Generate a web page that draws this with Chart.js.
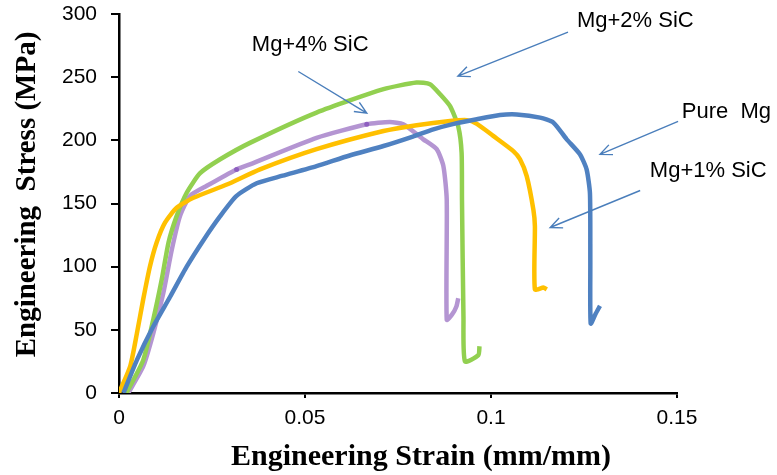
<!DOCTYPE html>
<html>
<head>
<meta charset="utf-8">
<script src="https://cdn.jsdelivr.net/npm/chart.js@4"></script>
<style>
  html, body { margin: 0; padding: 0; background: #fff; }
  canvas { display: block; }
</style>
</head>
<body>
<canvas id="stress-strain-chart" width="777" height="475"></canvas>
<script>
// tensile curves, strain in mm/mm and stress in MPa
const pure_mg_strain = [0.0012, 0.0048, 0.0092, 0.0137, 0.0182, 0.0227, 0.0272, 0.0316, 0.0370, 0.0440, 0.0531, 0.0620, 0.0711, 0.0790, 0.0845, 0.0900, 0.0962, 0.1024, 0.1069, 0.1132, 0.1168, 0.1203, 0.1239, 0.1257, 0.1266, 0.1267, 0.1268, 0.1280, 0.1293];
const pure_mg_stress = [0, 26, 52.6, 76, 100, 121, 140, 156, 166, 172, 179.6, 188, 195.5, 203, 208.7, 213, 216.7, 220, 220.5, 218, 214, 201, 189, 177, 158, 105, 55, 62, 69];

const sic1_strain = [0, 0.0030, 0.0048, 0.0065, 0.0083, 0.0101, 0.0124, 0.0155, 0.0200, 0.0290, 0.0379, 0.0531, 0.0711, 0.0800, 0.0890, 0.0935, 0.0962, 0.1006, 0.1060, 0.1078, 0.1096, 0.1114, 0.1118, 0.1118, 0.1141, 0.1150];
const sic1_stress = [0, 21, 47, 74, 100, 119, 135, 146.6, 154.5, 165, 177, 193, 207.4, 212, 215.3, 216, 213, 203.5, 191.5, 185, 171.7, 145, 132, 82, 83.5, 82];

const sic2_strain = [0.0020, 0.0065, 0.0092, 0.0115, 0.0133, 0.0155, 0.0182, 0.0218, 0.0272, 0.0352, 0.0531, 0.0711, 0.0800, 0.0836, 0.0863, 0.0890, 0.0912, 0.0921, 0.0922, 0.0926, 0.0930, 0.0966, 0.0969];
const sic2_stress = [0, 26, 58, 90, 119, 140, 158.5, 174, 185, 198, 222, 240.5, 245.8, 244.4, 236.5, 227, 211, 190, 153, 60, 25, 30, 37];

const sic4_strain = [0.0025, 0.0065, 0.0092, 0.0119, 0.0142, 0.0164, 0.0191, 0.0236, 0.0316, 0.0352, 0.0531, 0.0666, 0.0728, 0.0764, 0.0818, 0.0854, 0.0872, 0.0881, 0.0881, 0.0895, 0.0907, 0.0912];
const sic4_stress = [0, 21, 47, 79, 113.5, 140, 156, 164, 177, 181, 202, 212.7, 214.5, 212.7, 200.8, 193, 179.6, 153, 58, 62, 68.5, 75];
// two logged points that show as dots on the 4% curve
const sic4_marked = [8, 11];

const series_names = ['Pure  Mg', 'Mg+1% SiC', 'Mg+2% SiC', 'Mg+4% SiC'];
const x_ticks = [0, 0.05, 0.1, 0.15];
const y_ticks = [0, 50, 100, 150, 200, 250, 300];
const x_title = 'Engineering Strain (mm/mm)';
const y_title = 'Engineering  Stress (MPa)';

// callout labels: text anchor and arrow tail/head, in data units
const callouts = [
  { text: 'Mg+2% SiC', at: [0.1231, 294.4], from: [0.1207, 285.7], to: [0.0911, 250.8] },
  { text: 'Mg+4% SiC', at: [0.0357, 275.5], from: [0.0482, 254.5], to: [0.0666, 221.5] },
  { text: 'Pure  Mg',  at: [0.1513, 222.2], from: [0.1503, 215.0], to: [0.1293, 188.9] },
  { text: 'Mg+1% SiC', at: [0.1427, 175.4], from: [0.1401, 160.3], to: [0.1159, 131.0] },
];

function toPoints(xs, ys) {
  return xs.map((x, i) => ({ x: x, y: ys[i] }));
}

// axis titles sit a little off-centre, so they are drawn by hand
const axisTitlePlugin = {
  id: 'axisTitles',
  afterDraw(chart) {
    const ctx = chart.ctx;
    const area = chart.chartArea;
    ctx.save();
    ctx.fillStyle = '#000';
    ctx.font = 'bold 30px "Liberation Serif", "Times New Roman", serif';
    ctx.textAlign = 'center';
    ctx.textBaseline = 'middle';
    ctx.fillText(x_title, (area.left + area.right) / 2 + 23, 457);
    ctx.font = 'bold 29px "Liberation Serif", "Times New Roman", serif';
    ctx.translate(28, (area.top + area.bottom) / 2 - 9);
    ctx.rotate(-Math.PI / 2);
    ctx.fillText(y_title, 0, 0);
    ctx.restore();
  }
};

const calloutPlugin = {
  id: 'callouts',
  afterDatasetsDraw(chart) {
    const ctx = chart.ctx;
    const xs = chart.scales.x, ys = chart.scales.y;
    ctx.save();
    ctx.font = '22px "Liberation Sans", Arial, sans-serif';
    ctx.fillStyle = '#000';
    ctx.textBaseline = 'middle';
    ctx.textAlign = 'left';
    ctx.strokeStyle = '#4a7ebb';
    ctx.lineWidth = 1.4;
    callouts.forEach(c => {
      ctx.fillText(c.text, xs.getPixelForValue(c.at[0]), ys.getPixelForValue(c.at[1]));
      const x1 = xs.getPixelForValue(c.from[0]), y1 = ys.getPixelForValue(c.from[1]);
      const x2 = xs.getPixelForValue(c.to[0]), y2 = ys.getPixelForValue(c.to[1]);
      const ang = Math.atan2(y2 - y1, x2 - x1);
      const head = 13, spread = 0.42;
      ctx.beginPath();
      ctx.moveTo(x1, y1);
      ctx.lineTo(x2, y2);
      ctx.moveTo(x2 - head * Math.cos(ang - spread), y2 - head * Math.sin(ang - spread));
      ctx.lineTo(x2, y2);
      ctx.lineTo(x2 - head * Math.cos(ang + spread), y2 - head * Math.sin(ang + spread));
      ctx.stroke();
    });
    ctx.restore();
  }
};

const lineStyle = { showLine: true, pointRadius: 0, borderWidth: 4.5, tension: 0.2, fill: false };

new Chart(document.getElementById('stress-strain-chart'), {
  type: 'scatter',
  data: {
    datasets: [
      { ...lineStyle, label: series_names[0], data: toPoints(pure_mg_strain, pure_mg_stress), borderColor: '#4f81c1', backgroundColor: '#4f81c1' },
      { ...lineStyle, label: series_names[1], data: toPoints(sic1_strain, sic1_stress), borderColor: '#ffc000', backgroundColor: '#ffc000' },
      { ...lineStyle, label: series_names[2], data: toPoints(sic2_strain, sic2_stress), borderColor: '#92d050', backgroundColor: '#92d050' },
      { ...lineStyle, label: series_names[3], data: toPoints(sic4_strain, sic4_stress), borderColor: '#b495d2', backgroundColor: '#8e5fc0',
        pointRadius: (c) => sic4_marked.includes(c.dataIndex) ? 2.5 : 0, pointBorderWidth: 0 },
    ]
  },
  options: {
    responsive: false,
    animation: false,
    layout: { padding: { top: 14, right: 100, left: 0, bottom: 0 } },
    scales: {
      x: {
        type: 'linear',
        min: 0,
        max: 0.15,
        afterBuildTicks: (axis) => { axis.ticks = x_ticks.map(v => ({ value: v })); },
        afterFit: (axis) => { axis.height = 82; axis.paddingLeft = 0; axis.paddingRight = 0; },
        ticks: {
          color: '#000',
          padding: 8,
          font: { family: '"Liberation Sans", Arial, sans-serif', size: 21 },
          callback: (v) => String(v)
        },
        grid: { drawOnChartArea: false, drawTicks: true, tickLength: 5, color: '#000', lineWidth: 2 },
        border: { color: '#000', width: 2.5 }
      },
      y: {
        min: 0,
        max: 300,
        afterBuildTicks: (axis) => { axis.ticks = y_ticks.map(v => ({ value: v })); },
        afterFit: (axis) => { axis.width = 119; axis.paddingTop = 0; axis.paddingBottom = 0; },
        ticks: {
          color: '#000',
          padding: 14,
          font: { family: '"Liberation Sans", Arial, sans-serif', size: 21 }
        },
        grid: { drawOnChartArea: false, drawTicks: true, tickLength: 8, color: '#000', lineWidth: 2 },
        border: { color: '#000', width: 2.5 }
      }
    },
    plugins: {
      legend: { display: false },
      tooltip: { enabled: false }
    }
  },
  plugins: [calloutPlugin, axisTitlePlugin]
});
</script>
</body>
</html>
